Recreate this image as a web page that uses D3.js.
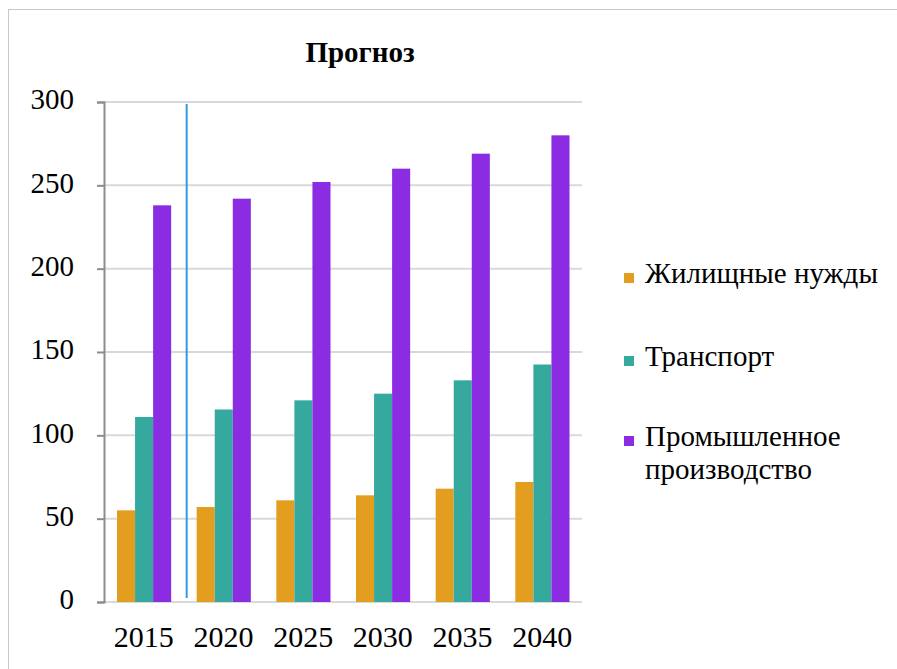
<!DOCTYPE html>
<meta charset="utf-8">
<style>
  body { margin: 0; background: #fff; }
</style>
<script src="https://d3js.org/d3.v7.min.js"></script>
<div id="chart"></div>
<script>
  // data
  const years = ["2015", "2020", "2025", "2030", "2035", "2040"];
  const seriesNames = ["Жилищные нужды", "Транспорт", "Промышленное производство"];
  const housing   = [55, 57, 61, 64, 68, 72];
  const transport = [111, 115.5, 121, 125, 133, 142.5];
  const industry  = [238, 242, 252, 260, 269, 280];
  const yTicks = [0, 50, 100, 150, 200, 250, 300];
  const colors = ["#E39D1F", "#36A99F", "#8B2BE2"];

  const FONT = "Liberation Serif";
  const W = 897, H = 669;
  const margin = {top: 102, left: 104, right: 315, bottom: 67};
  const width = W - margin.left - margin.right,
        height = H - margin.top - margin.bottom;

  const svg = d3.select("#chart").append("svg")
      .attr("width", W).attr("height", H);

  // outer frame
  svg.append("rect")
      .attr("x", 8.5).attr("y", 9.5)
      .attr("width", W).attr("height", H)
      .attr("fill", "none").attr("stroke", "#c8c8c8");

  const g = svg.append("g")
      .attr("transform", `translate(${margin.left},${margin.top})`);

  const x = d3.scaleBand().domain(years).range([0, width]).paddingInner(0).paddingOuter(0);
  const x1 = d3.scaleBand().domain(d3.range(3))
      .range([13, x.bandwidth() - 12.5]);
  const y = d3.scaleLinear().domain([0, 300]).range([height, 0]);

  // gridlines
  g.append("g").selectAll("line").data(yTicks).join("line")
      .attr("x1", 0).attr("x2", width)
      .attr("y1", d => y(d)).attr("y2", d => y(d))
      .attr("stroke", "#d9d9d9").attr("stroke-width", 2);

  // bars
  const data = years.map((yr, i) => ({year: yr, vals: [housing[i], transport[i], industry[i]]}));
  g.append("g").selectAll("g").data(data).join("g")
      .attr("transform", d => `translate(${x(d.year)},0)`)
    .selectAll("rect").data(d => d.vals).join("rect")
      .attr("x", (d, i) => x1(i))
      .attr("width", x1.bandwidth())
      .attr("y", d => y(d))
      .attr("height", d => height - y(d))
      .attr("fill", (d, i) => colors[i]);

  // blue marker line between 2015 and 2020
  g.append("line")
      .attr("x1", x("2020") + 3).attr("x2", x("2020") + 3)
      .attr("y1", 2).attr("y2", height - 4)
      .attr("stroke", "#2F9BE0").attr("stroke-width", 2);

  // y axis
  const yAxis = g.append("g")
      .call(d3.axisLeft(y).tickValues(yTicks).tickSize(7).tickPadding(23));
  yAxis.attr("font-family", FONT).attr("font-size", 29);
  yAxis.select(".domain").attr("stroke", "#8c8c8c").attr("stroke-width", 2);
  yAxis.selectAll(".tick line").attr("stroke", "#8c8c8c").attr("stroke-width", 2);
  yAxis.selectAll("text").attr("font-family", FONT).attr("font-size", 29).attr("dy", "0.24em").attr("fill", "#000");

  // x labels
  const xAxis = g.append("g")
      .attr("transform", `translate(0,${height})`)
      .call(d3.axisBottom(x).tickSize(0).tickPadding(0));
  xAxis.attr("font-family", FONT).attr("font-size", 30);
  xAxis.select(".domain").remove();
  xAxis.selectAll("text").attr("font-family", FONT).attr("font-size", 30)
      .attr("dy", 0).attr("y", 45).attr("fill", "#000");

  // title
  svg.append("text")
      .attr("x", 360).attr("y", 62)
      .attr("text-anchor", "middle")
      .attr("font-family", FONT)
      .attr("font-weight", "bold")
      .attr("font-size", 29)
      .text("Прогноз");

  // legend
  const legendRows = [
    {lines: [seriesNames[0]], y: 283},
    {lines: [seriesNames[1]], y: 366},
    {lines: ["Промышленное", "производство"], y: 446}
  ];
  const leg = svg.append("g");
  legendRows.forEach((r, i) => {
    leg.append("rect")
        .attr("x", 624).attr("y", r.y - 10)
        .attr("width", 10).attr("height", 10)
        .attr("fill", colors[i]);
    const t = leg.append("text")
        .attr("x", 645).attr("y", r.y)
        .attr("font-family", FONT)
        .attr("font-size", 29);
    r.lines.forEach((ln, j) => {
      t.append("tspan").attr("x", 645).attr("dy", j ? 33 : 0).text(ln);
    });
  });
</script>
